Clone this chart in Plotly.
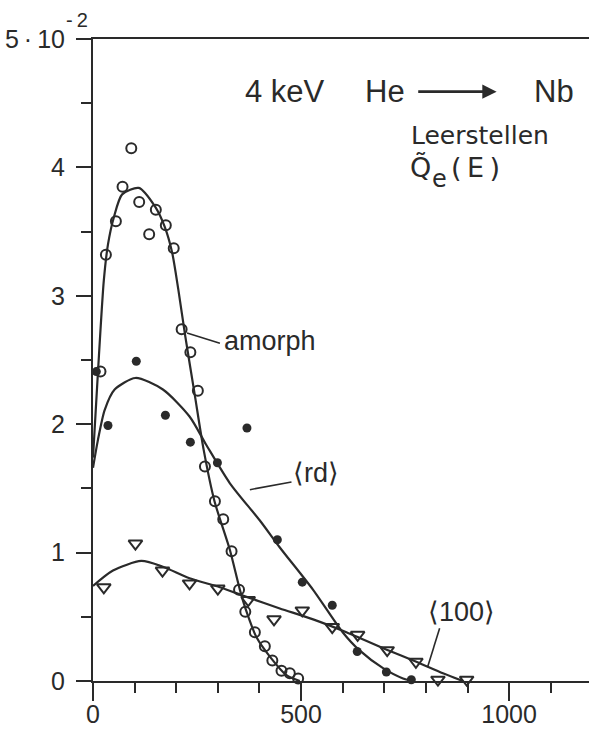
import plotly.graph_objects as go

# Measured points: vacancy yield Q~e(E) vs. energy E (eV) for 4 keV He -> Nb
amorph_E = [18, 31, 55, 71, 92, 111, 135, 151, 175, 194, 213, 234, 252, 269, 293, 313, 333, 351, 366, 389, 413, 431, 453, 473, 493]
amorph_Q = [2.41, 3.32, 3.58, 3.85, 4.15, 3.73, 3.48, 3.67, 3.55, 3.37, 2.74, 2.56, 2.26, 1.67, 1.40, 1.26, 1.01, 0.71, 0.54, 0.38, 0.27, 0.16, 0.08, 0.06, 0.02]

rd_E = [8, 36, 104, 174, 234, 299, 370, 443, 503, 575, 635, 705, 765]
rd_Q = [2.41, 1.99, 2.49, 2.07, 1.86, 1.70, 1.97, 1.10, 0.77, 0.59, 0.23, 0.07, 0.01]

h100_E = [26, 102, 167, 232, 300, 373, 435, 503, 575, 636, 707, 776, 829, 898]
h100_Q = [0.73, 1.07, 0.86, 0.76, 0.72, 0.63, 0.48, 0.55, 0.42, 0.36, 0.24, 0.15, 0.01, 0.01]

# Hand-drawn fit curves
amorph_fit_E = [0, 12, 26, 36, 50, 70, 110, 150, 172, 190, 205, 222, 244, 266, 292, 329, 353, 369, 393, 425, 465, 497]
amorph_fit_Q = [1.74, 2.41, 3.12, 3.40, 3.61, 3.79, 3.84, 3.69, 3.54, 3.34, 3.05, 2.68, 2.24, 1.80, 1.40, 1.02, 0.71, 0.54, 0.34, 0.19, 0.045, 0.0]

rd_fit_E = [0, 12, 28, 52, 102, 168, 232, 272, 329, 401, 449, 529, 600, 640, 697, 745, 770]
rd_fit_Q = [1.66, 1.88, 2.11, 2.27, 2.36, 2.27, 2.06, 1.84, 1.54, 1.25, 1.04, 0.71, 0.38, 0.24, 0.10, 0.02, 0.0]

h100_fit_E = [0, 48, 116, 168, 232, 305, 369, 449, 529, 609, 709, 777, 841, 889]
h100_fit_Q = [0.74, 0.86, 0.935, 0.89, 0.80, 0.73, 0.655, 0.565, 0.48, 0.38, 0.24, 0.15, 0.06, 0.0]

y_ticks = [0, 1, 2, 3, 4, 5]
y_ticktext = ["0", "1", "2", "3", "4", "5\u2009\u00b7\u200910"]
x_ticks = [0, 500, 1000]
x_ticktext = ["0", "500", "1000"]

INK = "#2a2a2a"
TICKFONT = dict(family="Liberation Sans, Arial, sans-serif", size=25, color=INK)

fig = go.Figure()

for fe, fq in [(amorph_fit_E, amorph_fit_Q), (rd_fit_E, rd_fit_Q), (h100_fit_E, h100_fit_Q)]:
    fig.add_trace(go.Scatter(x=fe, y=fq, mode="lines",
                             line=dict(color=INK, width=2.2, shape="spline", smoothing=0.7),
                             hoverinfo="skip", showlegend=False, cliponaxis=False))

fig.add_trace(go.Scatter(x=amorph_E, y=amorph_Q, mode="markers", showlegend=False, cliponaxis=False,
                         marker=dict(symbol="circle-open", size=10, color=INK, line=dict(width=2, color=INK))))
fig.add_trace(go.Scatter(x=rd_E, y=rd_Q, mode="markers", showlegend=False, cliponaxis=False,
                         marker=dict(symbol="circle", size=9, color=INK, line=dict(width=0))))
fig.add_trace(go.Scatter(x=h100_E, y=h100_Q, mode="markers", showlegend=False, cliponaxis=False,
                         marker=dict(symbol="triangle-down-open", size=12, color=INK, line=dict(width=2, color=INK))))

title_font = dict(family="Liberation Sans, Arial, sans-serif", size=31, color=INK)
sub_font = dict(family="DejaVu Sans, sans-serif", size=25, color=INK)
q_font = dict(family="DejaVu Sans, sans-serif", size=27, color=INK)
lab_font = dict(family="Liberation Sans, Arial, sans-serif", size=27, color=INK)

annotations = [
    dict(x=360, y=4.59, text="4 keV", font=title_font),
    dict(x=648, y=4.59, text="He", font=title_font),
    dict(x=1054, y=4.59, text="Nb", font=title_font),
    dict(x=759, y=4.25, text="Leerstellen", font=sub_font),
    dict(x=757, y=4.0, text="Q\u0303", font=q_font),
    dict(x=810, y=3.91, text="e", font=dict(family="DejaVu Sans, sans-serif", size=24, color=INK)),
    dict(x=855, y=4.0, text="(\u2009E\u2009)", font=q_font),
    dict(x=311, y=2.65, text="amorph", font=lab_font),
    dict(x=477, y=1.62, text="\u27e8rd\u27e9", font=lab_font),
    dict(x=801, y=0.535, text="\u27e8100\u27e9", font=lab_font),
]
for a in annotations:
    a.update(xref="x", yref="y", xanchor="left", yanchor="middle", showarrow=False)

# reaction arrow He -> Nb
annotations.append(dict(x=970, y=4.59, ax=778, ay=4.59, xref="x", yref="y", axref="x", ayref="y",
                        text="", showarrow=True, arrowhead=2, arrowsize=1.1, arrowwidth=2.6,
                        arrowcolor=INK, standoff=0))
# exponent of the top y label
annotations.append(dict(x=-0.058, y=1.03, xref="paper", yref="paper", text="-\u20092",
                        font=dict(family="Liberation Sans, Arial, sans-serif", size=20, color=INK),
                        xanchor="left", yanchor="middle", showarrow=False))

shapes = [
    dict(type="line", xref="x", yref="y", x0=226, y0=2.71, x1=305, y1=2.63, line=dict(color=INK, width=1.6)),
    dict(type="line", xref="x", yref="y", x0=377, y0=1.49, x1=477, y1=1.55, line=dict(color=INK, width=1.6)),
    dict(type="line", xref="x", yref="y", x0=833, y0=0.41, x1=804, y1=0.107, line=dict(color=INK, width=1.6)),
]

fig.update_layout(
    width=589, height=730,
    margin=dict(l=93, r=0, t=39, b=49, pad=0),
    paper_bgcolor="white", plot_bgcolor="white",
    annotations=annotations, shapes=shapes,
    xaxis=dict(range=[0, 1192], showgrid=False, zeroline=False, automargin=False,
               showline=True, linecolor=INK, linewidth=2, mirror=True,
               ticks="outside", tickvals=x_ticks, ticktext=x_ticktext, ticklen=18, tickwidth=2,
               tickcolor=INK, tickfont=TICKFONT, ticklabelstandoff=-8,
               minor=dict(dtick=100, tick0=0, ticks="outside", ticklen=10, tickwidth=2, tickcolor=INK)),
    yaxis=dict(range=[0, 5], showgrid=False, zeroline=False, automargin=False,
               showline=True, linecolor=INK, linewidth=2,
               ticks="outside", tickvals=y_ticks, ticktext=y_ticktext, ticklen=15, tickwidth=2,
               tickcolor=INK, tickfont=TICKFONT, ticklabelstandoff=6,
               minor=dict(dtick=0.5, tick0=0, ticks="outside", ticklen=10, tickwidth=2, tickcolor=INK)),
)

fig.write_html("out.html")
